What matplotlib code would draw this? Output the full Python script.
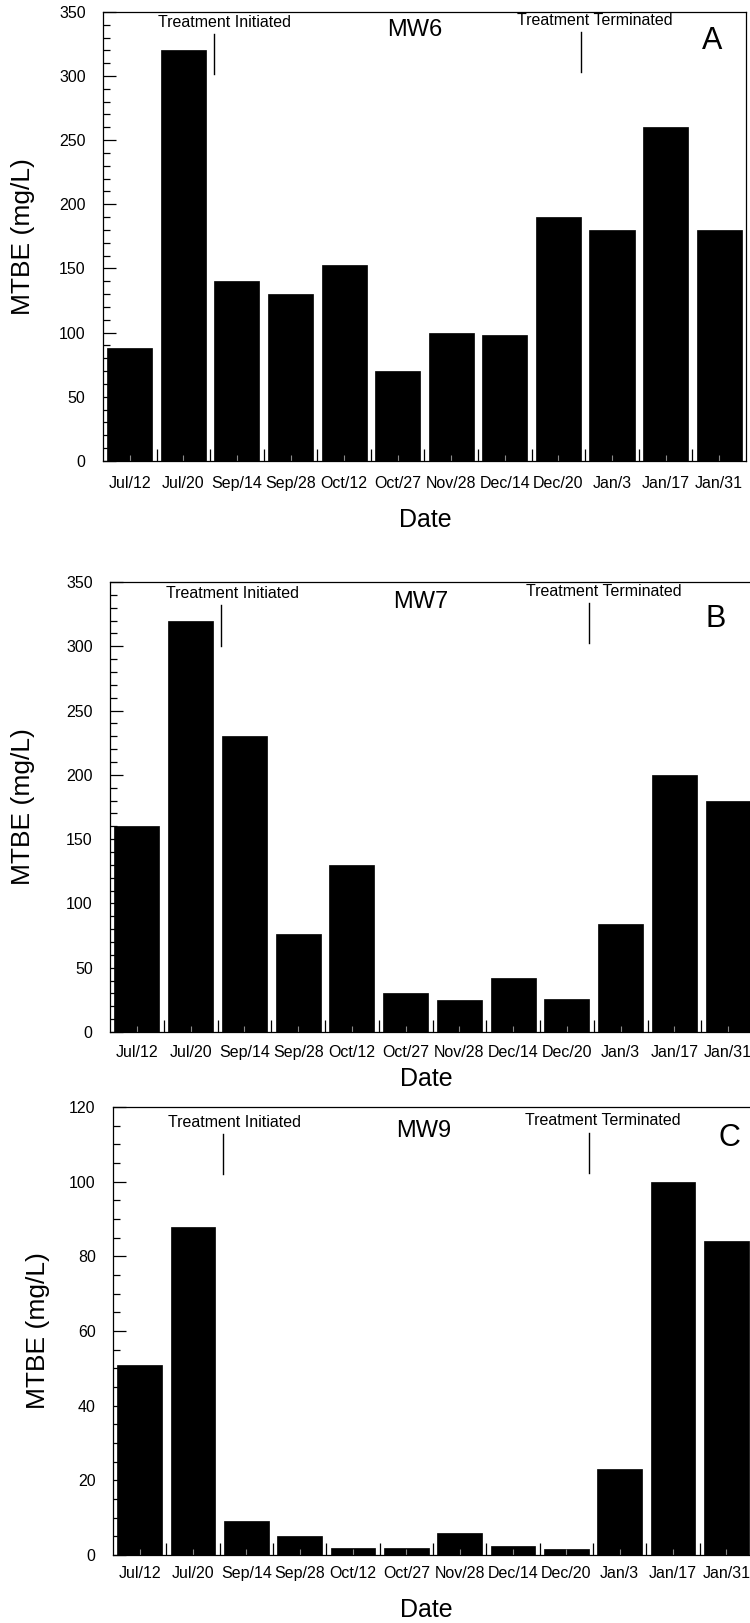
import matplotlib.pyplot as plt
import matplotlib.transforms as mtransforms
import numpy as np

plt.rcParams['font.family'] = ['Liberation Sans', 'DejaVu Sans']

dates = ['Jul/12', 'Jul/20', 'Sep/14', 'Sep/28', 'Oct/12', 'Oct/27',
         'Nov/28', 'Dec/14', 'Dec/20', 'Jan/3', 'Jan/17', 'Jan/31']
mw6 = [88, 320, 140, 130, 153, 70, 100, 98, 190, 180, 260, 180]
mw7 = [160, 320, 230, 76, 130, 30, 25, 42, 26, 84, 200, 180]
mw9 = [51, 88, 9, 5, 2, 2, 6, 2.5, 1.5, 23, 100, 84]

wells = ['MW6', 'MW7', 'MW9']
letters = ['A', 'B', 'C']
ymax = [350, 350, 120]
ystep = [50, 50, 20]
yminor = [10, 10, 5]

# layout (figure fractions) and annotation placement, per panel
positions = [[0.1373, 0.7160, 0.8573, 0.2767],
             [0.1467, 0.3641, 0.8600, 0.2773],
             [0.1507, 0.0419, 0.8533, 0.2760]]
init_txt_y = [0.976, 0.975, 0.965]
init_line = [(0.862, 0.951), (0.858, 0.949), (0.850, 0.940)]
term_txt_y = [0.981, 0.978, 0.969]
term_line = [(0.865, 0.955), (0.864, 0.953), (0.852, 0.941)]
mw_y = [0.960, 0.956, 0.947]
mw_x = [5.32, 5.28, 5.32]
letter_pos = [(10.86, 0.934), (10.76, 0.918), (11.05, 0.932)]
xlabel_pos = [(0.502, -0.131), (0.490, -0.104), (0.489, -0.123)]
ylabel_x = [-0.124, -0.135, -0.117]
xtick_pad = [10.5, 9.0, 8.0]

fig = plt.figure(figsize=(7.5, 16.23), dpi=100)

x = np.arange(len(dates))
for i, vals in enumerate([mw6, mw7, mw9]):
    ax = fig.add_axes(positions[i])
    ax.bar(x, vals, width=0.84, color='black', edgecolor='black', linewidth=0.5)
    ax.set_xlim(-0.5, 11.5)
    ax.set_ylim(0, ymax[i])

    ax.set_xticks(x)
    ax.set_xticklabels(dates)
    ax.set_xticks(x[:-1] + 0.5, minor=True)
    ax.tick_params(axis='x', which='major', direction='in', length=4, color='#8a8a8a',
                   labelsize=11.5, pad=xtick_pad[i])
    ax.tick_params(axis='x', which='minor', direction='in', length=9, width=0.9, color='black')

    ax.set_yticks(np.arange(0, ymax[i] + 1, ystep[i]))
    ax.set_yticks(np.arange(0, ymax[i], yminor[i]), minor=True)
    ax.tick_params(axis='y', which='major', direction='in', length=9, width=0.9,
                   labelsize=11.5, pad=12.5)
    ax.tick_params(axis='y', which='minor', direction='in', length=5, width=0.9)

    for s in ax.spines.values():
        s.set_linewidth(0.9)

    ax.set_xlabel('Date', fontsize=18, va='center')
    ax.xaxis.set_label_coords(*xlabel_pos[i])
    ax.set_ylabel('MTBE (mg/L)', fontsize=19, va='center')
    ax.yaxis.set_label_coords(ylabel_x[i], 0.5)

    trans = mtransforms.blended_transform_factory(ax.transData, ax.transAxes)
    ax.text(1.77, init_txt_y[i], 'Treatment Initiated', transform=trans,
            ha='center', va='center', fontsize=11.5)
    ax.plot([1.57, 1.57], init_line[i], transform=trans, color='black', lw=1)
    ax.text(8.68, term_txt_y[i], 'Treatment Terminated', transform=trans,
            ha='center', va='center', fontsize=11.5)
    ax.plot([8.42, 8.42], term_line[i], transform=trans, color='black', lw=1)
    ax.text(mw_x[i], mw_y[i], wells[i], transform=trans, ha='center', va='center', fontsize=17)
    ax.text(letter_pos[i][0], letter_pos[i][1], letters[i], transform=trans,
            ha='center', va='center', fontsize=22)

fig.savefig('out.png', dpi=100)
